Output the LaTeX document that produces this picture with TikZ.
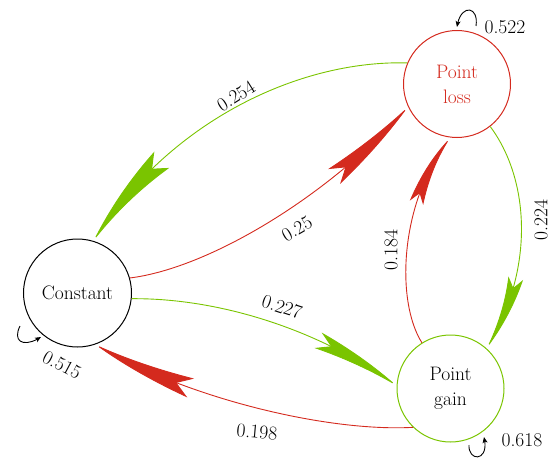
\documentclass[tikz,border=0pt]{standalone}
\usetikzlibrary{arrows.meta,bending}
\definecolor{edgegreen}{RGB}{122,196,0}
\definecolor{edgered}{RGB}{212,42,30}
\tikzset{
  state/.style={circle,draw,line width=1pt,minimum size=107pt,inner sep=0pt,align=center,font=\fontsize{19.5}{25}\selectfont},
  lbl/.style={font=\fontsize{19.5}{22}\selectfont,inner sep=0pt},
  gedge/.style={draw=edgegreen,line width=0.9pt},
  redge/.style={draw=edgered,line width=0.9pt},
  selfloop/.style={draw=black,line width=0.9pt,-{Stealth[length=6pt,width=5pt,inset=1.5pt]}}
}
\begin{document}
\begin{tikzpicture}[x=1pt,y=-1pt]
\useasboundingbox (0,0) rectangle (554,460);
\node[state,minimum size=108pt] (c) at (77.5,293) {Constant};
\node[state,draw=edgered,text=edgered] (pl) at (457,84) {Point\\loss};
\node[state,draw=edgegreen] (pg) at (450.5,388.5) {Point\\gain};

% edges
\draw[gedge,-{Stealth[length=110pt,width=22pt,inset=14pt,bend]}] (pl.157) .. controls (300,60) and (170,120) .. (c.73);
\draw[redge,-{Stealth[length=100pt,width=19pt,inset=14pt,bend]}] (c.16) .. controls (210,268) and (330,195) .. (pl.205);
\draw[gedge,-{Stealth[length=80pt,width=15pt,inset=11pt,bend]}] (pl.-52) .. controls (530,180) and (535,270) .. (pg.48);
\draw[redge,-{Stealth[length=74pt,width=14pt,inset=10pt,bend]}] (pg.122) .. controls (395,300) and (400,200) .. (pl.263);
\draw[gedge,-{Stealth[length=90pt,width=17pt,inset=14pt,bend]}] (c.-6) .. controls (220,298) and (320,330) .. (pg.177);
\draw[redge,-{Stealth[length=100pt,width=20pt,inset=14pt,bend]}] (pg.226) .. controls (330,432) and (190,400) .. (c.-71);

% labels
\node[lbl,rotate=32] (l1) at (236,96) {0.254};
\node[lbl,rotate=30] (l2) at (297,229) {0.25};
\node[lbl,rotate=90] (l3) at (541,220) {0.224};
\node[lbl,rotate=90] (l4) at (391,250) {0.184};
\node[lbl,rotate=-18] (l5) at (282,307) {0.227};
\node[lbl,rotate=-5] (l6) at (257,432) {0.198};

% self loops
\coordinate (s1a) at (476,26);
\coordinate (s1b) at (457,27);
\draw[selfloop] (s1a) .. controls (479,5) and (460,4) .. (s1b);
\node[lbl] (l7) at (505,27) {0.522};
\coordinate (s2a) at (20,326);
\coordinate (s2b) at (41,337);
\draw[selfloop] (s2a) .. controls (12,342) and (24,348) .. (s2b);
\node[lbl,rotate=-28] (l8) at (62,365) {0.515};
\coordinate (s3a) at (469,445);
\coordinate (s3b) at (484,437);
\draw[selfloop] (s3a) .. controls (468,462) and (490,462) .. (s3b);
\node[lbl] (l9) at (522,440) {0.618};
\end{tikzpicture}
\end{document}
